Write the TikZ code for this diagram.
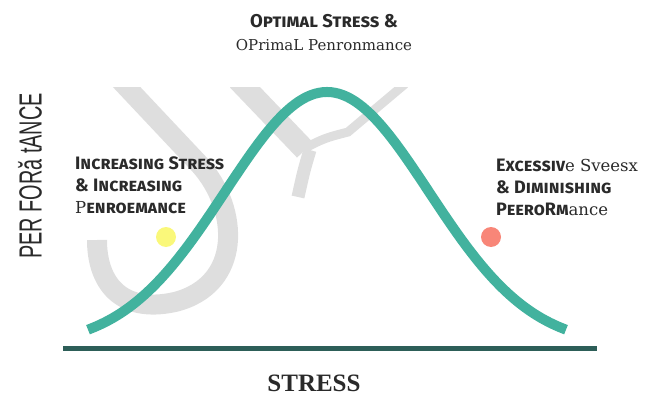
\documentclass[tikz,border=0pt]{standalone}
\usepackage{fontspec}
\usetikzlibrary{positioning}
\setmainfont{DejaVu Serif}
\newfontfamily\scb{Fira Sans}[Letters=SmallCaps, UprightFont={* Bold}]
\newfontfamily\stressfont{Liberation Serif}
\newfontfamily\axisfont{Liberation Sans}
\newcommand{\capsb}{\scb\fontsize{18}{22}\selectfont}
\definecolor{curveteal}{RGB}{66,178,158}
\definecolor{axisteal}{RGB}{45,94,88}
\definecolor{markgrey}{RGB}{222,222,222}
\definecolor{textdark}{RGB}{42,42,42}
\definecolor{lowyellow}{RGB}{250,248,122}
\definecolor{highred}{RGB}{248,134,120}

\begin{document}
\begin{tikzpicture}[x=1pt, y=-1pt,
    zonetext/.style={anchor=north west, inner sep=0pt, align=left, text=textdark,
        font=\fontsize{16.5}{22}\selectfont},
    zonedot/.style={circle, inner sep=0pt, minimum size=20pt}]
    \useasboundingbox (0,0) rectangle (649,396);

    % Watermark letters
    \begin{scope}
        \clip (60,88) rectangle (430,330);
        \draw[markgrey, line width=20pt] (120,80) -- (200,165)
            .. controls (240,210) and (242,285) .. (175,302)
            .. controls (120,314) and (97,282) .. (97,240);
        \draw[markgrey, line width=22pt] (238,80) -- (305,150);
        \draw[markgrey, line width=13pt] (310,150) .. controls (304,170) .. (298,197);
        \draw[markgrey, line width=9pt] (305,148) .. controls (325,138) .. (348,132) -- (405,84);
    \end{scope}

    % Axis
    \coordinate (axisstart) at (63,348);
    \coordinate (axisend) at (597,348);
    \draw[axisteal, line width=5pt] (axisstart) -- (axisend);

    % Bell curve
    \draw[curveteal, line width=10pt] plot[smooth, domain=88:566, samples=60]
        (\x, {346 - 254*exp(-((\x-327)/102)^2/2)});

    % Zone markers
    \node[zonedot, fill=lowyellow] (lowdot) at (166,237) {};
    \node[zonedot, fill=highred] (highdot) at (491,237) {};

    % Labels
    \node[anchor=north, inner sep=0pt, align=center, text=textdark,
        font=\fontsize{15}{23}\selectfont] (title) at (324,14)
        {{\scb\fontsize{18.5}{23}\selectfont Optimal Stress \&}\\OPrimaL Penronmance};
    \node[zonetext] (lowlabel) at (75,157)
        {{\capsb Increasing Stress}\\{\capsb \& Increasing}\\P{\capsb enroemance}};
    \node[zonetext] (highlabel) at (496,159)
        {{\capsb Excessiv}e Sveesx\\{\capsb \& Diminishing}\\{\capsb PeeroRm}ance};
    \node[rotate=90, inner sep=0pt, text=textdark, font=\axisfont\fontsize{32}{32}\selectfont]
        (ylabel) at (30,176) {\scalebox{0.62}[1]{PER FORă tANCE}};
    \node[inner sep=0pt, text=textdark, font=\stressfont\bfseries\fontsize{25}{25}\selectfont]
        (xlabel) at (314,383) {STRESS};
\end{tikzpicture}
\end{document}
